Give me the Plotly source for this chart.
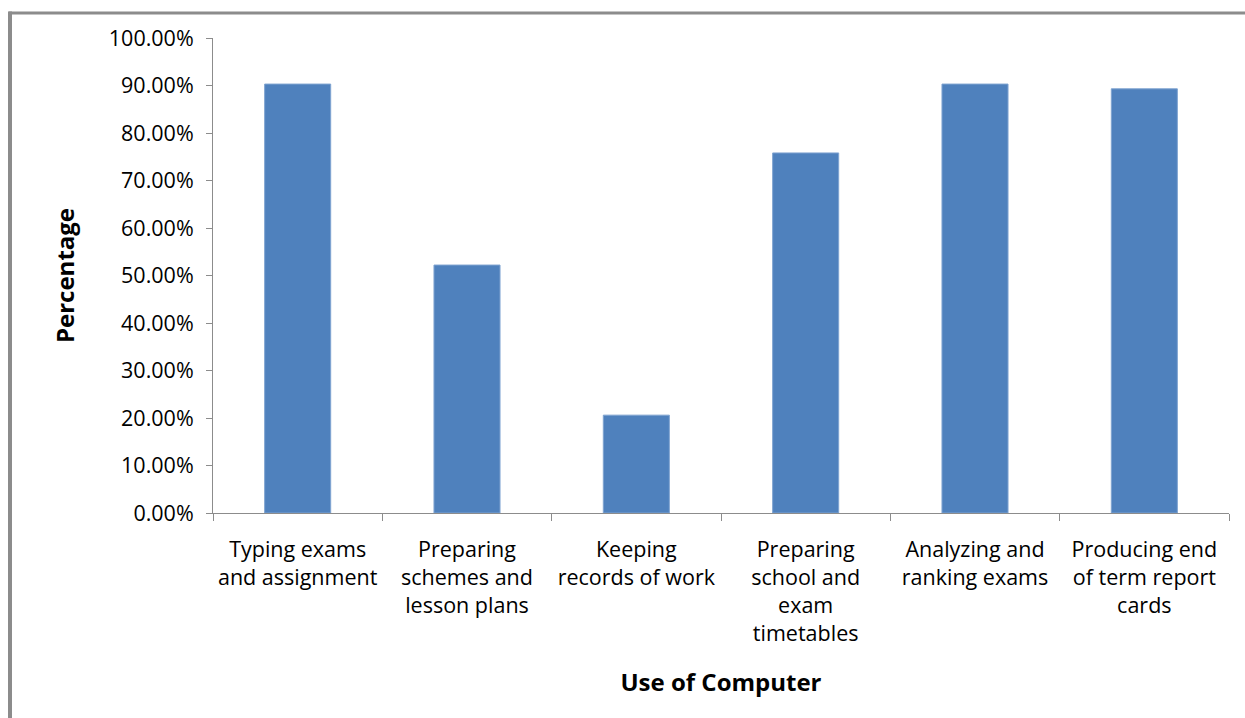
import plotly.graph_objects as go

categories = [
    "Typing exams<br>and assignment",
    "Preparing<br>schemes and<br>lesson plans",
    "Keeping<br>records of work",
    "Preparing<br>school and<br>exam<br>timetables",
    "Analyzing and<br>ranking exams",
    "Producing end<br>of term report<br>cards",
]
percentages = [0.903, 0.522, 0.206, 0.758, 0.903, 0.893]

FONT = "Open Sans"

fig = go.Figure()
fig.add_trace(go.Bar(
    x=categories,
    y=percentages,
    marker=dict(color="#4F81BD", line=dict(color="#7FA3D0", width=1)),
    width=0.39,
))

fig.update_layout(
    width=1245,
    height=718,
    margin=dict(l=213, r=16, t=38, b=205),
    paper_bgcolor="white",
    plot_bgcolor="white",
    showlegend=False,
    font=dict(family=FONT, color="black"),
    xaxis=dict(
        showgrid=False,
        showline=True,
        linecolor="#8C8C8C",
        linewidth=1,
        ticks="outside",
        tickson="boundaries",
        ticklen=7,
        tickcolor="#8C8C8C",
        ticklabelstandoff=17,
        tickfont=dict(family=FONT, size=21.5, color="black"),
        title=dict(text="<b>Use of Computer</b>", font=dict(family=FONT, size=24, color="black"), standoff=28),
        automargin=False,
    ),
    yaxis=dict(
        range=[0, 1.0],
        dtick=0.1,
        tickformat=".2%",
        showgrid=False,
        showline=True,
        linecolor="#8C8C8C",
        linewidth=1,
        ticks="outside",
        ticklen=6,
        tickcolor="#8C8C8C",
        ticklabelstandoff=8,
        tickfont=dict(family=FONT, size=21.5, color="black"),
        title=dict(text="<b>Percentage</b>", font=dict(family=FONT, size=24, color="black"), standoff=27),
        zeroline=False,
        automargin=False,
    ),
)

# outer frame (left and top edges visible)
fig.add_shape(type="line", xref="paper", yref="paper", x0=-0.1998, x1=-0.1998, y0=-0.45, y1=1.056,
              line=dict(color="#8C8C8C", width=4))
fig.add_shape(type="line", xref="paper", yref="paper", x0=-0.201, x1=1.02, y0=1.0527, y1=1.0527,
              line=dict(color="#8C8C8C", width=3))

fig.write_html("out.html")
